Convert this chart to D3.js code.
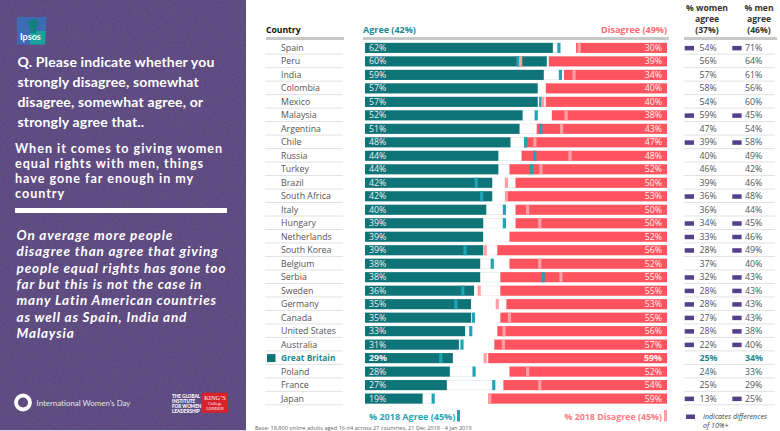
<!DOCTYPE html>
<html>
<head>
<meta charset="utf-8">
<script src="https://cdn.jsdelivr.net/npm/d3@7"></script>
<style>
  html, body { margin: 0; padding: 0; background: #fff; }
  svg { display: block; }
  text { font-family: "Open Sans", "Noto Sans", sans-serif; }
  .panel text { font-family: Lato, "Open Sans", sans-serif; }
</style>
</head>
<body>
<svg id="chart" width="780" height="431"></svg>
<script>
// values, all in %
const countries = ['Spain', 'Peru', 'India', 'Colombia', 'Mexico', 'Malaysia', 'Argentina', 'Chile', 'Russia', 'Turkey',
  'Brazil', 'South Africa', 'Italy', 'Hungary', 'Netherlands', 'South Korea', 'Belgium', 'Serbia', 'Sweden', 'Germany',
  'Canada', 'United States', 'Australia', 'Great Britain', 'Poland', 'France', 'Japan']
const agree = [62, 60, 59, 57, 57, 52, 51, 48, 44, 44, 42, 42, 40, 39, 39, 39, 38, 38, 36, 35, 35, 33, 31, 29, 28, 27, 19]
const disagree = [30, 39, 34, 40, 40, 38, 43, 47, 48, 52, 50, 53, 50, 50, 52, 56, 52, 55, 55, 53, 55, 56, 57, 59, 52, 54, 59]
const agree2018 = [64, 50.5, 64.5, null, 58, 56.5, 58, 53, 56, 55, 36.7, 38.5, 46, 46, null, 33, 42, 58.8, 32.3, 30, 35.8, 34.9, 32, 25, 36, 42.5, 22.5]
const disagree2018 = [29, 48.3, 30.7, null, 41, 33.3, 34.8, 43.6, 32, 41.6, 53, 53, 46, 42, null, 60, 42, 35, 62, 56, 52, 53.8, 54, 60, 46, 42, 58.5]
const women = [54, 56, 57, 58, 54, 59, 47, 39, 40, 46, 39, 36, 36, 34, 33, 28, 37, 32, 28, 28, 27, 28, 22, 25, 24, 25, 13]
const men = [71, 64, 61, 56, 60, 45, 54, 58, 49, 42, 46, 48, 44, 45, 46, 49, 40, 43, 43, 43, 43, 38, 40, 34, 33, 29, 25]
const womenFlag = ['Spain', 'Malaysia', 'Chile', 'South Africa', 'Hungary', 'Netherlands', 'South Korea', 'Serbia', 'Sweden', 'Germany', 'Canada', 'United States', 'Australia', 'Japan']
const questionLines = ['Q. Please indicate whether you', 'strongly disagree, somewhat', 'disagree, somewhat agree, or', 'strongly agree that..']
const statementLines = ['When it comes to giving women', 'equal rights with men, things', 'have gone far enough in my', 'country']
const noteLines = ['On average more people', 'disagree than agree that giving', 'people equal rights has gone too', 'far but this is not the case in', 'many Latin American countries', 'as well as Spain, India and', 'Malaysia']

const teal = '#0f7478', marker = '#1fa3b5', red = '#ff545f', pink = '#ff9ea3', purple = '#54408a', panelFill = '#5c4a80'
const grey = '#555', highlight = 'Great Britain'

const svg = d3.select('#chart')

// left panel
let defs = svg.append('defs')
let grain = defs.append('filter').attr('id', 'grain').attr('x', 0).attr('y', 0).attr('width', '100%').attr('height', '100%')
grain.append('feTurbulence').attr('type', 'fractalNoise').attr('baseFrequency', 0.55).attr('numOctaves', 3).attr('seed', 4)
grain.append('feColorMatrix').attr('values', '0 0 0 0 1  0 0 0 0 1  0 0 0 0 1  0.5 0 0 0 -0.2')

let panel = svg.append('g').attr('class', 'panel')
panel.append('rect').attr('width', 246).attr('height', 430).attr('fill', panelFill)
panel.append('rect').attr('width', 246).attr('height', 430).attr('filter', 'url(#grain)').attr('opacity', 0.25)
panel.append('rect').attr('y', 430).attr('width', 246).attr('height', 1).attr('fill', '#d9d2ea')

// ipsos logo
panel.append('path').attr('d', 'M17 17 H46.5 L45 44.5 H17 Z').attr('fill', '#3a6db5')
panel.append('path').attr('d', 'M30 31 H45.7 L45 44.5 H30 Z').attr('fill', '#15a39a')
panel.append('circle').attr('cx', 33).attr('cy', 24).attr('r', 5).attr('fill', '#12807f')
panel.append('rect').attr('x', 30).attr('y', 27).attr('width', 6).attr('height', 6).attr('fill', '#12807f')
panel.append('text').attr('x', 20).attr('y', 40).attr('font-size', 9).attr('font-weight', 700).attr('fill', '#fff').text('Ipsos')

let panelText = (lines, x, y, step, size, spacing, style) => {
  panel.append('g').selectAll('text').data(lines).join('text')
    .attr('x', x).attr('y', (d, i) => y + i * step)
    .attr('font-size', size).attr('font-weight', 700).attr('font-style', style)
    .attr('letter-spacing', spacing).attr('fill', '#fff')
    .text(d => d)
}
panelText(questionLines, 17.5, 67, 19.9, 14, 0.16, 'normal')
panelText(statementLines, 15, 152.7, 15.2, 12.6, 0.97, 'normal')
panelText(noteLines, 16.5, 240, 16.3, 13.5, 0.85, 'italic')
panel.append('rect').attr('x', 15).attr('y', 208).attr('width', 212).attr('height', 5).attr('fill', '#fff')

// footer logos
panel.append('circle').attr('cx', 23).attr('cy', 402.5).attr('r', 7).attr('fill', 'none').attr('stroke', '#fff').attr('stroke-width', 3.8)
panel.append('text').attr('x', 36.5).attr('y', 406).attr('font-size', 7.9).attr('font-weight', 400).attr('fill', '#e6e1ee').text('International Women\u2019s Day')
let gi = panel.append('g').attr('font-size', 4.6).attr('font-weight', 900).attr('fill', '#fff')
;['THE GLOBAL', 'INSTITUTE', 'FOR WOMEN\u2019S', 'LEADERSHIP'].forEach((t, i) => {
  gi.append('text').attr('x', 172).attr('y', 397.5 + i * 5).text(t)
})
panel.append('rect').attr('x', 201.7).attr('y', 392.7).attr('width', 26.3).attr('height', 20).attr('fill', '#d8212b')
;[['KING\u2019S', 6.4, 400], ['College', 4.4, 405], ['LONDON', 4.2, 409.5]].forEach(([t, size, yy]) => {
  panel.append('text').attr('x', 215).attr('y', yy).attr('text-anchor', 'middle').attr('font-size', size)
    .style('font-family', 'Liberation Serif').attr('fill', '#fff').text(t)
})

// scales
const y = d3.scaleBand().domain(countries).range([41.5, 405]).paddingInner(0.25).paddingOuter(0.1)
const xAgree = d3.scaleLinear().domain([0, 100]).range([365, 668])
const xDisagree = d3.scaleLinear().domain([0, 100]).range([667, 364])

// headers
let header = (x, yy, t, color, anchor, size) => svg.append('text').attr('x', x).attr('y', yy).attr('text-anchor', anchor || 'start')
  .attr('font-size', size || 8.6).attr('font-weight', 700).attr('fill', color).text(t)
header(266, 33, 'Country', '#111')
header(363, 33, 'Agree (42%)', '#1d8a92', 'start', 9)
header(667, 33, 'Disagree  (49%)', '#ff6b74', 'end', 9)
;['% women', 'agree', '(37%)'].forEach((t, i) => header(707, 11 + i * 11, t, '#333', 'middle', 8.6))
;['% men', 'agree', '(46%)'].forEach((t, i) => header(759, 11 + i * 11, t, '#333', 'middle', 8.6))

let headerRule = (x1, x2) => svg.append('rect').attr('x', x1).attr('y', 37).attr('width', x2 - x1).attr('height', 3).attr('fill', '#c8c8c8')
headerRule(266, 344)
headerRule(363, 669)
headerRule(684, 777)

// rows
let rows = svg.append('g').selectAll('g').data(countries).join('g')
  .attr('transform', d => `translate(0,${y(d)})`)
const bh = y.bandwidth()
const rowIndex = d => countries.indexOf(d)

rows.append('line').attr('x1', 265).attr('x2', 343).attr('y1', bh + 1.2).attr('y2', bh + 1.2).attr('stroke', '#e2e2e2')
rows.append('line').attr('x1', 684).attr('x2', 775).attr('y1', bh + 1.2).attr('y2', bh + 1.2).attr('stroke', '#e2e2e2')

rows.append('text').attr('x', 281).attr('y', bh / 2 + 3)
  .attr('font-size', d => d === highlight ? 8.4 : 8.8).attr('font-weight', d => d === highlight ? 700 : 400)
  .attr('fill', d => d === highlight ? '#1d8a92' : grey).text(d => d)

// faint outline between a bar end and its 2018 marker
rows.filter(d => agree2018[rowIndex(d)] > agree[rowIndex(d)]).append('rect')
  .attr('x', d => xAgree(agree[rowIndex(d)])).attr('y', 0.3).attr('height', bh - 0.6)
  .attr('width', d => xAgree(agree2018[rowIndex(d)]) - xAgree(agree[rowIndex(d)]))
  .attr('fill', '#fff').attr('stroke', '#dcecec').attr('stroke-width', 0.7)
rows.filter(d => disagree2018[rowIndex(d)] > disagree[rowIndex(d)]).append('rect')
  .attr('x', d => xDisagree(disagree2018[rowIndex(d)])).attr('y', 0.3).attr('height', bh - 0.6)
  .attr('width', d => xDisagree(disagree[rowIndex(d)]) - xDisagree(disagree2018[rowIndex(d)]))
  .attr('fill', '#fff').attr('stroke', '#fbe6e7').attr('stroke-width', 0.7)

rows.append('rect').attr('x', xAgree(0)).attr('height', bh)
  .attr('width', d => xAgree(agree[rowIndex(d)]) - xAgree(0)).attr('fill', teal)
rows.append('rect').attr('x', d => xDisagree(disagree[rowIndex(d)])).attr('height', bh)
  .attr('width', d => xDisagree(0) - xDisagree(disagree[rowIndex(d)])).attr('fill', red)

rows.filter(d => agree2018[rowIndex(d)] !== null).append('rect')
  .attr('x', d => xAgree(agree2018[rowIndex(d)]) - 1.6).attr('width', 3.2).attr('height', bh).attr('fill', marker)
rows.filter(d => disagree2018[rowIndex(d)] !== null).append('rect')
  .attr('x', d => xDisagree(disagree2018[rowIndex(d)]) - 1.6).attr('width', 3.2).attr('height', bh).attr('fill', pink)

rows.append('text').attr('x', 369).attr('y', bh / 2 + 3)
  .attr('font-size', 8.8).attr('font-weight', d => d === highlight ? 700 : 400).attr('fill', '#e8f2f2')
  .text(d => agree[rowIndex(d)] + '%')
rows.append('text').attr('x', 662).attr('y', bh / 2 + 3).attr('text-anchor', 'end')
  .attr('font-size', 8.8).attr('font-weight', d => d === highlight ? 700 : 400).attr('fill', '#fff0f0')
  .text(d => disagree[rowIndex(d)] + '%')

// women / men columns
let column = (values, x, flagX) => {
  rows.append('text').attr('x', x).attr('y', bh / 2 + 3)
    .attr('font-size', 8.8).attr('font-weight', d => d === highlight ? 700 : 400)
    .attr('fill', d => d === highlight ? '#1d8a92' : grey)
    .text(d => values[rowIndex(d)] + '%')
  rows.filter(d => womenFlag.includes(d)).append('rect')
    .attr('x', flagX).attr('y', bh / 2 - 2).attr('width', 9.3).attr('height', 4.5).attr('fill', purple)
}
column(women, 699.5, 684.7)
column(men, 745, 732.3)

// Great Britain key
svg.append('rect').attr('x', 267).attr('y', y(highlight) + 1).attr('width', 8.5).attr('height', 8).attr('fill', teal)

// footer
header(369, 420, '% 2018 Agree (45%)', '#27a6b5', 'start', 9)
svg.append('rect').attr('x', 457).attr('y', 410).attr('width', 3).attr('height', 11.5).attr('fill', marker)
header(662, 420, '% 2018 Disagree (45%)', '#ff7a82', 'end', 8.85)
svg.append('rect').attr('x', 664).attr('y', 410).attr('width', 3).attr('height', 11.5).attr('fill', pink)
svg.append('rect').attr('x', 686).attr('y', 414.5).attr('width', 9).attr('height', 4.5).attr('fill', purple)
;['Indicates differences', 'of 10%+'].forEach((t, i) => {
  svg.append('text').attr('x', 703).attr('y', 418.5 + i * 9.5).attr('font-size', 7.1).attr('font-style', 'italic').attr('fill', '#444').text(t)
})
svg.append('text').attr('x', 255).attr('y', 429.8).attr('font-size', 5.6).attr('fill', '#666')
  .text('Base: 18,800 online adults aged 16-64 across 27 countries, 21 Dec 2018 - 4 Jan 2019')
</script>
</body>
</html>
